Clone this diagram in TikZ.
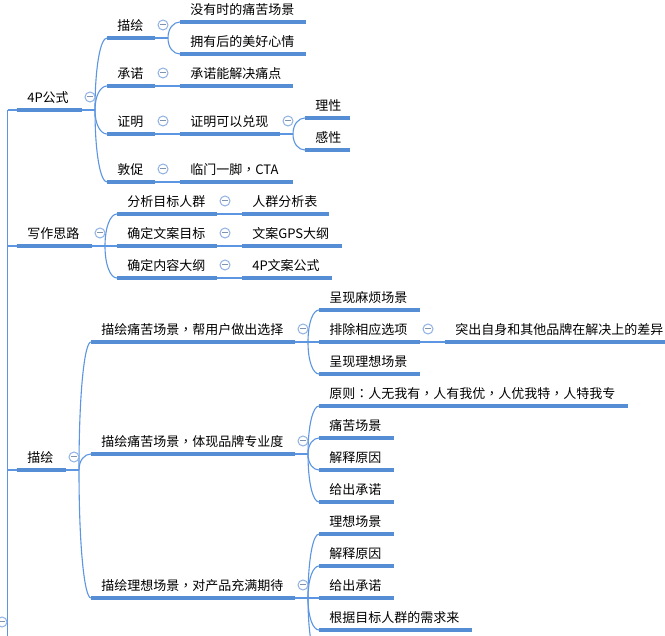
\documentclass[tikz,border=0pt]{standalone}
\usepackage{fontspec}
\setmainfont{Noto Sans CJK SC}
\newfontfamily\tcfont{Noto Sans CJK TC}
\usetikzlibrary{calc}
\definecolor{barblue}{HTML}{558ED5}
\definecolor{linkblue}{HTML}{5C96E2}
\definecolor{ringblue}{HTML}{8FB2E3}
\definecolor{minusgray}{HTML}{7F93AD}
\tikzset{
  topic/.style={anchor=south west,minimum height=24pt,inner xsep=0pt,inner ysep=0pt,outer sep=0pt,font=\fontsize{13}{15}\selectfont,text=black},
  barline/.style={draw=barblue,line width=3.3pt},
  link/.style={draw=linkblue,line width=1.1pt},
  toggle/.style={circle,draw=ringblue,fill=white,line width=1pt,minimum size=10pt,inner sep=0pt,outer sep=0pt,
    path picture={\draw[minusgray,line width=1pt] ($(path picture bounding box.center)+(-3,0)$) -- ($(path picture bounding box.center)+(3,0)$);}}
}
\newcommand{\tnode}[5]{\node[topic] (#1) at (#2,#3) {\makebox[#4pt][l]{\hspace{10.3pt}#5}};}
\newcommand{\cm}{{\tcfont ，}}
% straight joint between parent and only child
\newcommand{\straight}[2]{\draw[link] (#1.south east) -- (#2.south west);}
% curve from trunk coordinate to child
\newcommand{\bend}[2]{\draw[link] (#1) .. controls ($(#1)!0.6!(#1 |- #2.south west)$) and ($(#1 |- #2.south west)!0.45!(#2.south west)$) .. (#2.south west);}
\newcommand{\stub}[2]{\draw[link] (#1.south east) -- (#2);}
\begin{document}
\begin{tikzpicture}[x=1pt,y=-1pt]
\useasboundingbox (0,0) rectangle (665,636);
\clip (0,0) rectangle (665,636);
\fill[white] (0,0) rectangle (665,636);
% root
\coordinate (rtop) at (7.5,110);
\coordinate (rbot) at (7.5,636);
% level 1
\tnode{fp}{17}{110}{65}{4P公式}
\tnode{xz}{17}{246}{75}{写作思路}
\tnode{ms}{17}{470}{49}{描绘}
% 4P
\tnode{fa}{107}{38}{48}{描绘}
\tnode{fb}{107}{86}{48}{承诺}
\tnode{fc}{107}{134}{48}{证明}
\tnode{fd}{107}{182}{48}{敦促}
\tnode{faa}{180}{22}{126}{没有时的痛苦场景}
\tnode{fab}{180}{54}{126}{拥有后的美好心情}
\tnode{fba}{180}{86}{113}{承诺能解决痛点}
\tnode{fca}{180}{134}{100}{证明可以兑现}
\tnode{fcaa}{305}{118}{45}{理性}
\tnode{fcab}{305}{150}{45}{感性}
\tnode{fda}{180}{182}{113}{临门一脚\cm CTA}
% writing
\tnode{xa}{117}{214}{100}{分析目标人群}
\tnode{xb}{117}{246}{100}{确定文案目标}
\tnode{xc}{117}{278}{100}{确定内容大纲}
\tnode{xaa}{242}{214}{87}{人群分析表}
\tnode{xba}{242}{246}{100}{文案GPS大纲}
\tnode{xca}{242}{278}{90}{4P文案公式}
% describe
\tnode{ma}{91}{342}{204}{描绘痛苦场景\cm 帮用户做出选择}
\tnode{mb}{91}{454}{204}{描绘痛苦场景\cm 体现品牌专业度}
\tnode{mc}{91}{598}{204}{描绘理想场景\cm 对产品充满期待}
\tnode{maa}{319}{310}{101}{呈现麻烦场景}
\tnode{mab}{319}{342}{101}{排除相应选项}
\tnode{mac}{319}{374}{101}{呈现理想场景}
\tnode{maba}{445}{342}{220}{突出自身和其他品牌在解决上的差异}
\tnode{mba}{319}{406}{309}{原则{\tcfont ：}人无我有\cm 人有我优\cm 人优我特\cm 人特我专}
\tnode{mbb}{319}{438}{75}{痛苦场景}
\tnode{mbc}{319}{470}{75}{解释原因}
\tnode{mbd}{319}{502}{75}{给出承诺}
\tnode{mca}{319}{534}{75}{理想场景}
\tnode{mcb}{319}{566}{75}{解释原因}
\tnode{mcc}{319}{598}{75}{给出承诺}
\tnode{mcd}{319}{630}{153}{根据目标人群的需求来}
\coordinate (mce) at (322,666);
% trunks
\coordinate (tfp) at (95,110);
\coordinate (tfa) at (168,38);
\coordinate (tfca) at (293,134);
\coordinate (txz) at (105,246);
\coordinate (tms) at (79,470);
\coordinate (tma) at (308,342);
\coordinate (tmb) at (308,454);
\coordinate (tmc) at (308,598);
% root connectors
\draw[link] (rtop) -- (rbot);
\draw[link] (rtop) -- (fp.south west);
\draw[link] (rtop |- xz.south west) -- (xz.south west);
\draw[link] (rtop |- ms.south west) -- (ms.south west);
% stubs
\stub{fp}{tfp}\stub{fa}{tfa}\stub{fca}{tfca}\stub{xz}{txz}\stub{ms}{tms}\stub{ma}{tma}\stub{mb}{tmb}\stub{mc}{tmc}
% curves
\bend{tfp}{fa}\bend{tfp}{fb}\bend{tfp}{fc}\bend{tfp}{fd}
\bend{tfa}{faa}\bend{tfa}{fab}
\bend{tfca}{fcaa}\bend{tfca}{fcab}
\bend{txz}{xa}\bend{txz}{xc}
\draw[link] (txz) -- (xb.south west);
\bend{tms}{ma}\bend{tms}{mb}\bend{tms}{mc}
\bend{tma}{maa}\bend{tma}{mac}
\draw[link] (tma) -- (mab.south west);
\bend{tmb}{mba}\bend{tmb}{mbb}\bend{tmb}{mbc}\bend{tmb}{mbd}
\bend{tmc}{mca}\bend{tmc}{mcb}\bend{tmc}{mcd}
\draw[link] (tmc) -- (mcc.south west);
\draw[link] (tmc) .. controls ($(tmc)!0.6!(tmc |- mce)$) and ($(tmc |- mce)!0.45!(mce)$) .. (mce);
% straight joints
\straight{fb}{fba}\straight{fc}{fca}\straight{fd}{fda}
\straight{xa}{xaa}\straight{xb}{xba}\straight{xc}{xca}
\straight{mab}{maba}
% bars
\foreach \n in {fp,xz,ms,fa,fb,fc,fd,faa,fab,fba,fca,fcaa,fcab,fda,xa,xb,xc,xaa,xba,xca,ma,mb,mc,maa,mab,mac,maba,mba,mbb,mbc,mbd,mca,mcb,mcc,mcd}
  \draw[barline] (\n.south west) -- (\n.south east);
% toggles
\foreach \nm/\x/\y in {trt/2/622,tg1/90/97,tg2/163/25,tg3/163/73,tg4/163/121,tg5/163/169,tg6/288/121,tg7/100/233,tg8/225/201,tg9/225/233,tg10/225/265,tg11/74/457,tg12/303/329,tg13/303/441,tg14/303/585,tg15/428/329}
  \node[toggle] (\nm) at (\x,\y) {};
\end{tikzpicture}
\end{document}
